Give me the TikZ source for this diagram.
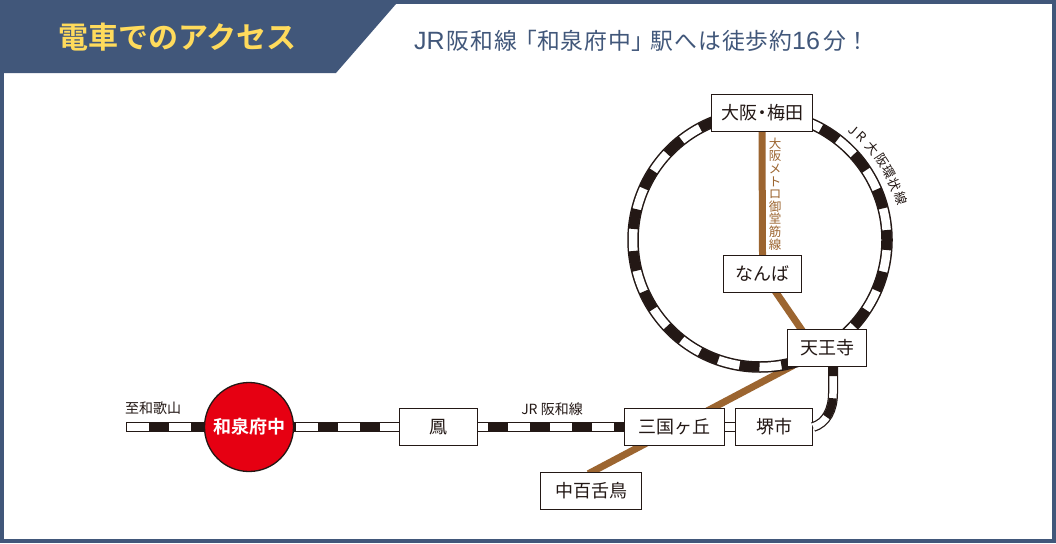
\documentclass[tikz,border=0pt]{standalone}
\usepackage{fontspec}
\usepackage{xcolor}
\usetikzlibrary{backgrounds}
\setmainfont{Noto Sans CJK JP}
\newfontfamily\jpbold{Noto Sans CJK JP Bold}
\newfontfamily\jpsub[RawFeature=+palt,LetterSpace=4]{Noto Sans CJK JP}
\newfontfamily\latsub{Liberation Sans}
\definecolor{navy}{HTML}{41577A}
\definecolor{titleyellow}{HTML}{FFDB5C}
\definecolor{railblack}{HTML}{231815}
\definecolor{metrobrown}{HTML}{9C6530}
\definecolor{stationred}{HTML}{E60012}
\tikzset{
  rail/.style={preaction={draw=railblack,solid,line width=10pt},
    preaction={draw=white,solid,line width=7.5pt},
    draw=railblack,line width=8pt,dash pattern=on 20pt off 22pt,dash phase=#1pt},
  rail/.default=0,
  ringrail/.style={preaction={draw=railblack,solid,line width=11.5pt},
    preaction={draw=white,solid,line width=8.5pt},
    draw=railblack,line width=9.5pt,dash pattern=on 20pt off 22pt,dash phase=#1pt},
  metro/.style={draw=metrobrown,line width=7pt,shorten <=-4pt,shorten >=-4pt},
  stationbox/.style={draw=railblack,fill=white,line width=1.3pt,minimum height=37pt,inner sep=0pt,
    text=railblack,font=\fontsize{18}{18}\selectfont},
  smalllabel/.style={text=railblack,inner sep=0pt,font=\fontsize{14}{14}\selectfont},
  looplabel/.style={text=railblack,inner sep=0pt,font=\fontsize{13}{13}\selectfont},
}
\begin{document}
\begin{tikzpicture}[x=1pt,y=-1pt]
\useasboundingbox (0,0) rectangle (1056,543);
% stations
\node[stationbox,minimum width=101pt] (umeda) at (762,113) {大阪\kern-4pt・\kern-4pt梅田};
\node[stationbox,minimum width=78pt] (namba) at (762.5,274) {なんば};
\node[stationbox,minimum width=79pt] (tennoji) at (827,348) {天王寺};
\node[stationbox,minimum width=100pt] (mikuni) at (674.5,427) {三国ヶ丘};
\node[stationbox,minimum width=77pt] (sakai) at (774,427) {堺市};
\node[stationbox,minimum width=78pt] (otori) at (438.5,427) {鳳};
\node[stationbox,minimum width=101pt] (nakamozu) at (591,491) {中百舌鳥};
\node[circle,draw=railblack,fill=stationred,line width=1.3pt,minimum size=89pt,inner sep=0pt,text=white,font=\fontsize{18}{18}\jpbold] (izumi) at (249,427) {和泉府中};
\begin{pgfonlayer}{background}
\fill[white] (0,0) rectangle (1056,543);
\draw[navy,line width=4pt] (2,2) rectangle (1054,541);
\fill[navy] (0,0)--(397,0)--(396,4)--(336,73)--(0,73)--cycle;
% metro
\draw[metro] (umeda.south) -- (namba.north);
\draw[metro] ([xshift=14pt]namba.south) -- ([xshift=-26pt]tennoji.north);
\draw[metro] ([xshift=-37pt]tennoji.south) -- ([xshift=1pt]nakamozu.north);
% loop line
\coordinate (ringc) at (760,240);
\draw[ringrail=31] (ringc) ++(-127,0) arc[start angle=180,end angle=-180,radius=127];
\end{pgfonlayer}
\node[anchor=west,inner sep=0pt,text=titleyellow,font=\fontsize{30}{30}\jpbold] (title) at (58,37) {電車でのアクセス};
\node[anchor=west,inner sep=0pt,text=navy,font=\fontsize{22.8}{23}\jpsub] (subtitle) at (414,41) {{\fontsize{25}{25}\latsub JR}\kern2pt 阪和線\kern8pt「和泉府中」\kern7pt駅へは徒歩約{\fontsize{25}{25}\latsub 16}\kern3pt 分\kern6pt！};
% JR lines
\coordinate (wakayama) at (126,427);
\draw[rail=19] (wakayama) -- (izumi.west);
\draw[rail=18] (izumi.east) -- (otori.west);
\draw[rail=32] (otori.east) -- (mikuni.west);
\draw[rail=25] (mikuni.east) -- (sakai.west);
\draw[rail=25] (sakai.east) .. controls (826,423) and (833,410) .. (833,393) -- ([xshift=6pt]tennoji.south);
% labels
\node[smalllabel] (towakayama) at (153,408) {至和歌山};
\node[smalllabel] (hanwa) at (552,409) {JR 阪和線};
\node[text=metrobrown,inner sep=0pt,align=center,font=\fontsize{12.5}{12.6}\selectfont] (midosuji) at (775,194) {大\\阪\\メ\\ト\\ロ\\御\\堂\\筋\\線};
\foreach \x/\y/\t/\b in {853/130/J/-40,861.5/137/R/-42,872.5/148/大/-50,881.5/160/阪/-57,888.5/172/環/-62,895/184.5/状/-68,901.5/198/線/-74}
  \node[looplabel,rotate=\b] (loop\t) at (\x,\y) {\t};
\end{tikzpicture}
\end{document}
